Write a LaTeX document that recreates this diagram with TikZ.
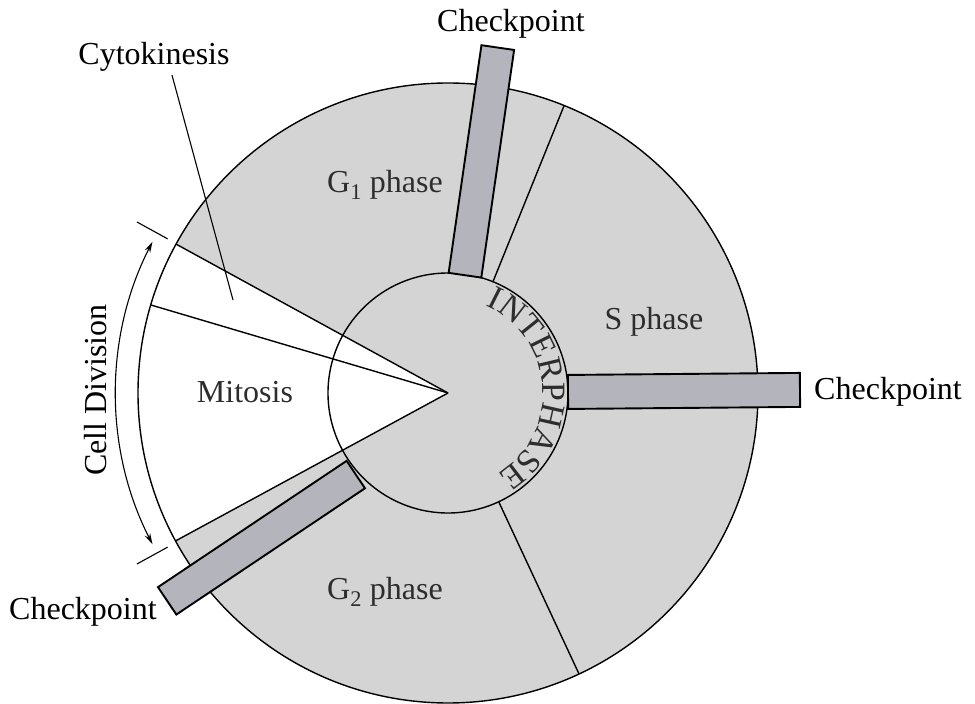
\documentclass[tikz,border=0pt]{standalone}
\usepackage{fontspec}
\setmainfont{Liberation Serif}
\usetikzlibrary{calc,arrows.meta,decorations.text}

\definecolor{cellgray}{RGB}{212,212,212}
\definecolor{bargray}{RGB}{180,180,188}
\definecolor{labelgray}{RGB}{45,45,45}

\begin{document}
\begin{tikzpicture}[x=1pt,y=1pt,
    outline/.style={line width=1.4pt},
    thinline/.style={line width=1.1pt},
    bar/.style={draw, line width=1.9pt, fill=bargray},
    outlabel/.style={font=\fontsize{32}{36}\selectfont, text=black, inner sep=0pt, anchor=base},
    inlabel/.style={font=\fontsize{32}{36}\selectfont, text=labelgray, inner sep=0pt, anchor=base}]

\useasboundingbox (0,0) rectangle (975,704);
\coordinate (C) at (448,311);

% ===== Cell =====
\fill[cellgray] (C) circle[radius=310];
\fill[white] (C) -- ($(C)+(151.3:310)$) arc[start angle=151.3, end angle=208.5, radius=310] -- cycle;
\draw[outline] (C) circle[radius=310];
\draw[outline] (C) circle[radius=120];

% ===== Mitosis / cytokinesis wedge =====
\draw[outline] (C) -- ($(C)+(151.3:310)$);
\draw[outline] (C) -- ($(C)+(163.5:310)$);
\draw[outline] (C) -- ($(C)+(208.5:310)$);

% ===== Phase borders =====
\draw[outline] ($(C)+(68:120)$) -- ($(C)+(68:310)$);
\draw[outline] ($(C)+(-65:120)$) -- ($(C)+(-65:310)$);

% ===== Checkpoint bars =====
\begin{scope}[shift={(C)}, rotate=81.8]
    \draw[bar] (119,-16.5) rectangle (349,16.5);
\end{scope}
\begin{scope}[shift={(C)}, rotate=0.5]
    \draw[bar] (120,-17) rectangle (352,17);
\end{scope}
\begin{scope}[shift={(C)}, rotate=213.8]
    \draw[bar] (122,0) rectangle (349,33);
\end{scope}

% ===== Cell division arrow =====
\draw[thinline, {Stealth[length=11pt,width=6pt]}-{Stealth[length=11pt,width=6pt]}]
    ($(C)+(152.9:332)$) arc[start angle=152.9, end angle=207.1, radius=332];
\draw[thinline] ($(C)+(151.2:320)$) -- ($(C)+(151.2:355)$);
\draw[thinline] ($(C)+(208.8:320)$) -- ($(C)+(208.8:355)$);
\node[outlabel, anchor=center, rotate=90] (celldiv) at (96,314) {Cell Division};

% ===== Labels =====
\node[outlabel] (ckTop) at (511,672) {Checkpoint};
\node[outlabel] (ckRight) at (888,304) {Checkpoint};
\node[outlabel] (ckLeft) at (83,84) {Checkpoint};
\node[outlabel] (cyto) at (154,639) {Cytokinesis};

\node[inlabel] (gOne) at (385,511) {G\textsubscript{1} phase};
\node[inlabel] (sPhase) at (654,374) {S phase};
\node[inlabel] (mitosis) at (245,301) {Mitosis};
\node[inlabel] (gTwo) at (385,104) {G\textsubscript{2} phase};

\coordinate (cytoTip) at (233,404);
\draw[thinline] ([xshift=18pt,yshift=-3pt]cyto.south) -- (cytoTip);

% ===== Interphase =====
\path[decorate, decoration={text along path, text align=center, text color=labelgray,
    text={|\fontsize{34}{38}\selectfont|INTERPHASE}}]
    ($(C)+(70:95)$) arc[start angle=70, end angle=-62, radius=95];

\end{tikzpicture}
\end{document}
